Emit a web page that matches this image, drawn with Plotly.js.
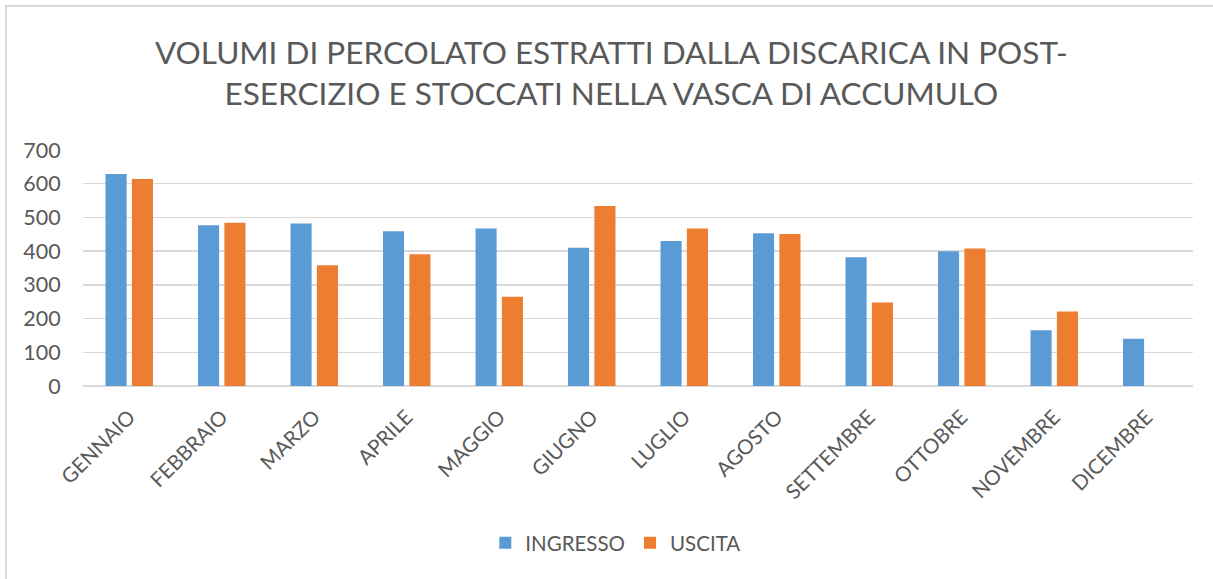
<!DOCTYPE html>
<html>
<head>
<meta charset="utf-8">
<script src="https://cdn.plot.ly/plotly-3.0.1.min.js"></script>
<style>
  html, body { margin: 0; padding: 0; background: #ffffff; }
  #chart { width: 1213px; height: 579px; }
</style>
</head>
<body>
<div id="chart"></div>
<script>
const months = ["GENNAIO", "FEBBRAIO", "MARZO", "APRILE", "MAGGIO", "GIUGNO",
                "LUGLIO", "AGOSTO", "SETTEMBRE", "OTTOBRE", "NOVEMBRE", "DICEMBRE"];
const ingresso = [629, 477, 482, 459, 467, 410, 430, 453, 382, 400, 165, 140];
const uscita   = [614, 484, 358, 391, 265, 534, 467, 451, 248, 408, 221, null];
const seriesNames = ["INGRESSO", "USCITA"];
const yTicks = [0, 100, 200, 300, 400, 500, 600, 700];

const FONT = "Lato, 'Open Sans', 'Liberation Sans', sans-serif";
const GREY = "#595959";

const traces = [
  {
    type: "bar",
    name: seriesNames[0],
    x: months,
    y: ingresso,
    marker: { color: "#5b9bd5", line: { width: 0 } },
    hoverinfo: "x+y+name"
  },
  {
    type: "bar",
    name: seriesNames[1],
    x: months,
    y: uscita,
    marker: { color: "#ed7d31", line: { width: 0 } },
    hoverinfo: "x+y+name"
  }
];

const layout = {
  width: 1213,
  height: 579,
  paper_bgcolor: "#ffffff",
  plot_bgcolor: "#ffffff",
  margin: { l: 83, r: 20, t: 150, b: 193, pad: 0 },
  font: { family: FONT, color: GREY, size: 20 },
  title: {
    text: "VOLUMI DI PERCOLATO ESTRATTI DALLA DISCARICA IN POST-<br>ESERCIZIO E STOCCATI NELLA VASCA DI ACCUMULO",
    font: { family: FONT, size: 31.5, color: GREY },
    x: 0.504,
    xanchor: "center",
    xref: "container",
    y: 0.89,
    yanchor: "middle",
    yref: "container"
  },
  barmode: "group",
  bargap: 0.43,
  bargroupgap: 0.2,
  xaxis: {
    type: "category",
    tickangle: -45,
    tickfont: { family: FONT, size: 20.5, color: GREY },
    ticks: "outside",
    ticklen: 10,
    tickcolor: "rgba(0,0,0,0)",
    showline: false,
    showgrid: false,
    zeroline: false
  },
  yaxis: {
    range: [0, 700],
    tickvals: yTicks,
    ticktext: yTicks.map(String),
    tickfont: { family: FONT, size: 21.5, color: GREY },
    ticks: "outside",
    ticklen: 17,
    tickcolor: "rgba(0,0,0,0)",
    showgrid: true,
    gridcolor: "#d9d9d9",
    gridwidth: 1.5,
    zeroline: true,
    zerolinecolor: "#d9d9d9",
    zerolinewidth: 1.5,
    showline: false,
    fixedrange: true
  },
  showlegend: true,
  legend: {
    orientation: "h",
    x: 0.48,
    xanchor: "center",
    y: -0.665,
    yanchor: "middle",
    font: { family: FONT, size: 20.5, color: GREY },
    itemwidth: 30,
    bgcolor: "rgba(0,0,0,0)",
    traceorder: "normal"
  },
  shapes: [
    {
      type: "rect",
      xref: "paper", yref: "paper",
      x0: -0.0694, x1: 1.3,
      y0: -1.5, y1: 1.61,
      line: { color: "#d9d9d9", width: 2 },
      fillcolor: "rgba(0,0,0,0)",
      layer: "below"
    }
  ]
};

Plotly.newPlot("chart", traces, layout, { displayModeBar: false, staticPlot: true });
</script>
</body>
</html>
